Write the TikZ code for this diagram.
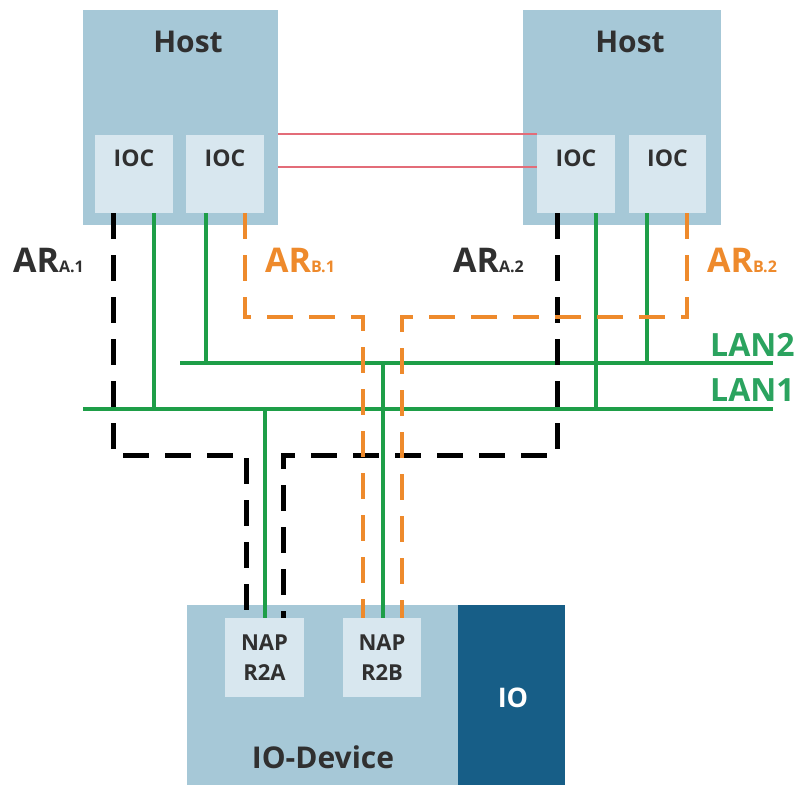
\documentclass[tikz,border=0pt]{standalone}
\usepackage{fontspec}
\setmainfont{Open Sans}
\definecolor{hostc}{HTML}{A6C8D7}
\definecolor{iocc}{HTML}{D8E7EF}
\definecolor{ioc}{HTML}{175E87}
\definecolor{greenc}{HTML}{1E9E48}
\definecolor{lanc}{HTML}{2BA35F}
\definecolor{orangec}{HTML}{EE8A2C}
\definecolor{redc}{HTML}{E36C78}
\definecolor{textc}{HTML}{303030}
\begin{document}
\begin{tikzpicture}[x=1pt,y=-1pt,
  hostbox/.style={fill=hostc,draw=none,inner sep=0pt},
  smallbox/.style={fill=iocc,draw=none,inner sep=0pt},
  iobox/.style={fill=ioc,draw=none,inner sep=0pt},
  titletext/.style={text=textc,font=\fontsize{30}{32}\selectfont\bfseries,inner sep=0pt},
  ioctext/.style={text=textc,font=\fontsize{23}{24}\selectfont\bfseries,inner sep=0pt},
  naptext/.style={text=textc,font=\fontsize{22}{30}\selectfont\bfseries,inner sep=0pt,align=center},
  artext/.style={font=\fontsize{34}{34}\selectfont\bfseries,inner sep=0pt,anchor=base west},
  lantext/.style={text=lanc,font=\fontsize{32}{32}\selectfont\bfseries,inner sep=0pt,anchor=base west},
  lanline/.style={draw=greenc,line width=3.8pt},
  arA/.style={draw=black,line width=5pt,dash pattern=on 26pt off 16pt},
  arB/.style={draw=orangec,line width=4.5pt,dash pattern=on 26pt off 16pt},
  redline/.style={draw=redc,line width=1.4pt}]
\useasboundingbox (0,0) rectangle (807,785);
\newcommand{\subar}[1]{{\fontsize{16}{16}\selectfont #1}}
% hosts
\node[hostbox,minimum width=195pt,minimum height=215pt] (hostL) at (180.5,117.5) {};
\node[hostbox,minimum width=198pt,minimum height=215pt] (hostR) at (622,117.5) {};
\node[titletext] (hostLt) at (188,42) {Host};
\node[titletext] (hostRt) at (630,42) {Host};
% IOC boxes
\node[smallbox,minimum width=78pt,minimum height=78pt] (iocL1) at (134,174) {};
\node[smallbox,minimum width=78pt,minimum height=78pt] (iocL2) at (225,174) {};
\node[smallbox,minimum width=78pt,minimum height=78pt] (iocR1) at (576,174) {};
\node[smallbox,minimum width=77pt,minimum height=78pt] (iocR2) at (667.5,174) {};
\node[ioctext] (tL1) at (134,158) {IOC};
\node[ioctext] (tL2) at (225,158) {IOC};
\node[ioctext] (tR1) at (576,158) {IOC};
\node[ioctext] (tR2) at (667.5,158) {IOC};
% device
\node[hostbox,minimum width=271pt,minimum height=180pt] (dev) at (322.5,695) {};
\node[iobox,minimum width=107pt,minimum height=180pt] (io) at (511.5,695) {};
\node[smallbox,minimum width=79pt,minimum height=79pt] (napA) at (264.5,657.5) {};
\node[smallbox,minimum width=78pt,minimum height=79pt] (napB) at (382,657.5) {};
\node[naptext] (napAt) at (264.5,658) {NAP\\R2A};
\node[naptext] (napBt) at (382,658) {NAP\\R2B};
\node[titletext] (devt) at (323,757) {IO-Device};
\node[titletext,text=white,font=\fontsize{27}{30}\selectfont\bfseries] (iot) at (513,698) {IO};
% coordinates
\coordinate (rL1) at (278,134); \coordinate (rR1) at (537,134);
\coordinate (rL2) at (278,167); \coordinate (rR2) at (537,167);
\coordinate (lan2w) at (180,363); \coordinate (lan2e) at (773,363);
\coordinate (lan1w) at (83,409);  \coordinate (lan1e) at (773,409);
% red lines
\draw[redline] (rL1) -- (rR1);
\draw[redline] (rL2) -- (rR2);
% LAN lines
\draw[lanline] (lan2w) -- (lan2e);
\draw[lanline] (lan1w) -- (lan1e);
\draw[lanline] (iocL1.south -| 154,0) -- (154,409);
\draw[lanline] (iocL2.south -| 206,0) -- (206,363);
\draw[lanline] (iocR1.south -| 596,0) -- (596,409);
\draw[lanline] (iocR2.south -| 647,0) -- (647,363);
\draw[lanline] (265,409) -- (napA.north -| 265,0);
\draw[lanline] (383,363) -- (napB.north -| 383,0);
% AR A (black)
\draw[arA] (iocL1.south -| 113,0) -- (113,455) -- (246,455) -- (napA.north -| 246,0);
\draw[arA] (iocR1.south -| 557,0) -- (557,455) -- (283,455) -- (napA.north -| 283,0);
% AR B (orange)
\draw[arB] (iocL2.south -| 245,0) -- (245,317) -- (363,317) -- (napB.north -| 363,0);
\draw[arB] (iocR2.south -| 687,0) -- (687,317) -- (402,317) -- (napB.north -| 402,0);
% labels
\node[artext,text=textc] (arA1) at (13,272) {AR\subar{A.1}};
\node[artext,text=orangec] (arB1) at (265,272) {AR\subar{B.1}};
\node[artext,text=textc] (arA2) at (453,272) {AR\subar{A.2}};
\node[artext,text=orangec] (arB2) at (707,272) {AR\subar{B.2}};
\node[lantext] (lan2t) at (710,356) {LAN2};
\node[lantext] (lan1t) at (710,401) {LAN1};
\end{tikzpicture}
\end{document}
